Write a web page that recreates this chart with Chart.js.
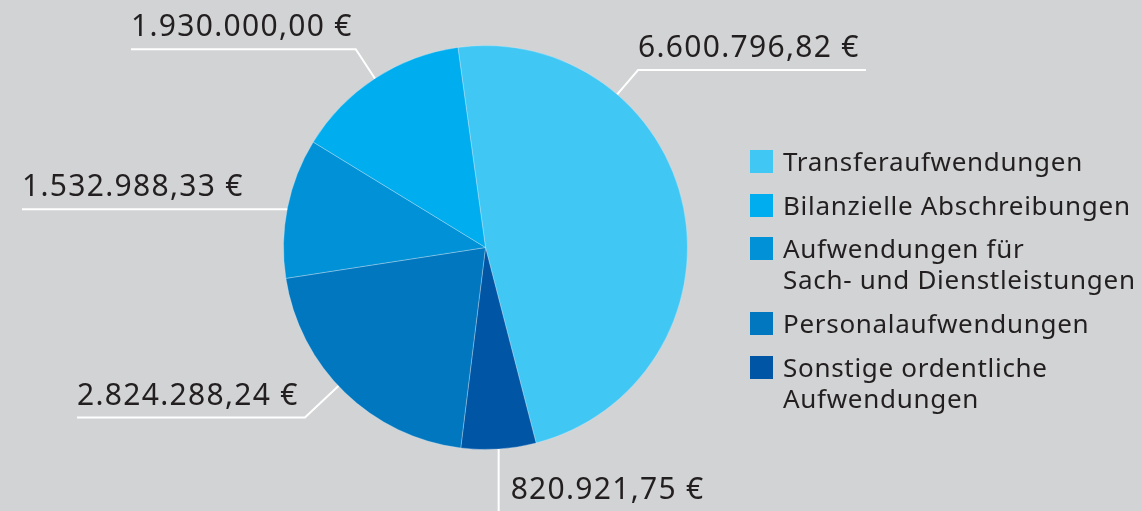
<!DOCTYPE html>
<html>
<head>
<meta charset="utf-8">
<script src="https://cdn.jsdelivr.net/npm/chart.js@4"></script>
<style>
  html, body { margin: 0; padding: 0; background: #d1d3d4; }
  #wrap { width: 1142px; height: 511px; }
</style>
</head>
<body>
<div id="wrap"><canvas id="pie" width="1142" height="511"></canvas></div>
<script>
// Daten (im Uhrzeigersinn ab Startwinkel)
const categories = ['Transferaufwendungen', 'Sonstige ordentliche Aufwendungen', 'Personalaufwendungen',
  'Aufwendungen für Sach- und Dienstleistungen', 'Bilanzielle Abschreibungen'];
const values = [6600796.82, 820921.75, 2824288.24, 1532988.33, 1930000.00];
const colors = ['#41c7f4', '#0055a5', '#0077bf', '#0091d6', '#00adee'];

// Legende (Reihenfolge wie im Original)
const legendOrder = [0, 4, 3, 2, 1];
const legendLines = [
  ['Transferaufwendungen'],
  ['Bilanzielle Abschreibungen'],
  ['Aufwendungen für', 'Sach- und Dienstleistungen'],
  ['Personalaufwendungen'],
  ['Sonstige ordentliche', 'Aufwendungen']
];

// Beschriftungen: Ankerpunkt im Segment, radiale Verlängerung, Ende der Linie
const anchorFrac = [0.28, 0.5, 0.535, 0.49, 0.5];
const leaderExt = [32, 0, 46, 0, 35];
const leaderEndX = [866, null, 77, 22, 131];

function formatEuro(v) {
  const parts = v.toFixed(2).split('.');
  const int = parts[0].replace(/\B(?=(\d{3})+(?!\d))/g, '.');
  return int + ',' + parts[1] + ' €';
}

const FONT = '"Noto Sans", "Open Sans", sans-serif';
const TEXT = '#231f20';

const labelPlugin = {
  id: 'labels',
  afterDraw(chart) {
    const ctx = chart.ctx;
    const arcs = chart.getDatasetMeta(0).data;
    ctx.save();
    ctx.strokeStyle = '#ffffff';
    ctx.lineWidth = 2;
    ctx.fillStyle = TEXT;
    ctx.font = '30px ' + FONT;
    ctx.letterSpacing = '1.3px';
    ctx.textBaseline = 'alphabetic';
    ctx.textAlign = 'left';

    arcs.forEach((arc, i) => {
      const a = arc.startAngle + (arc.endAngle - arc.startAngle) * anchorFrac[i];
      const r = arc.outerRadius;
      const x0 = arc.x + Math.cos(a) * r;
      const y0 = arc.y + Math.sin(a) * r;
      const text = formatEuro(values[i]);
      ctx.beginPath();
      if (leaderEndX[i] === null) {
        // senkrechte Linie nach unten
        ctx.moveTo(x0, y0);
        ctx.lineTo(x0, chart.height);
        ctx.stroke();
        ctx.fillText(text, x0 + 12, y0 + 50);
        return;
      }
      const x1 = x0 + Math.cos(a) * leaderExt[i];
      const y1 = y0 + Math.sin(a) * leaderExt[i];
      ctx.moveTo(x0, y0);
      ctx.lineTo(x1, y1);
      ctx.lineTo(leaderEndX[i], y1);
      ctx.stroke();
      const left = Math.min(x1, leaderEndX[i]);
      ctx.fillText(text, left, y1 - 13);
    });

    // Legende
    ctx.font = '26px ' + FONT;
    ctx.letterSpacing = '0.7px';
    const rowTop = [150, 194, 237, 312, 356];
    const lineH = 31;
    legendOrder.forEach((idx, row) => {
      ctx.fillStyle = colors[idx];
      ctx.fillRect(750, rowTop[row], 23, 23);
      ctx.fillStyle = TEXT;
      legendLines[row].forEach((ln, k) => {
        ctx.fillText(ln, 783, rowTop[row] + 21 + k * lineH);
      });
    });
    ctx.restore();
  }
};

new Chart(document.getElementById('pie'), {
  type: 'pie',
  data: {
    labels: categories,
    datasets: [{
      data: values,
      backgroundColor: colors,
      borderColor: 'rgba(235,245,255,0.3)',
      borderWidth: 1
    }]
  },
  options: {
    responsive: false,
    animation: false,
    rotation: -7.85,
    layout: { padding: { left: 283, top: 45, right: 454, bottom: 61 } },
    plugins: {
      legend: { display: false },
      tooltip: { enabled: false }
    }
  },
  plugins: [labelPlugin]
});
</script>
</body>
</html>
